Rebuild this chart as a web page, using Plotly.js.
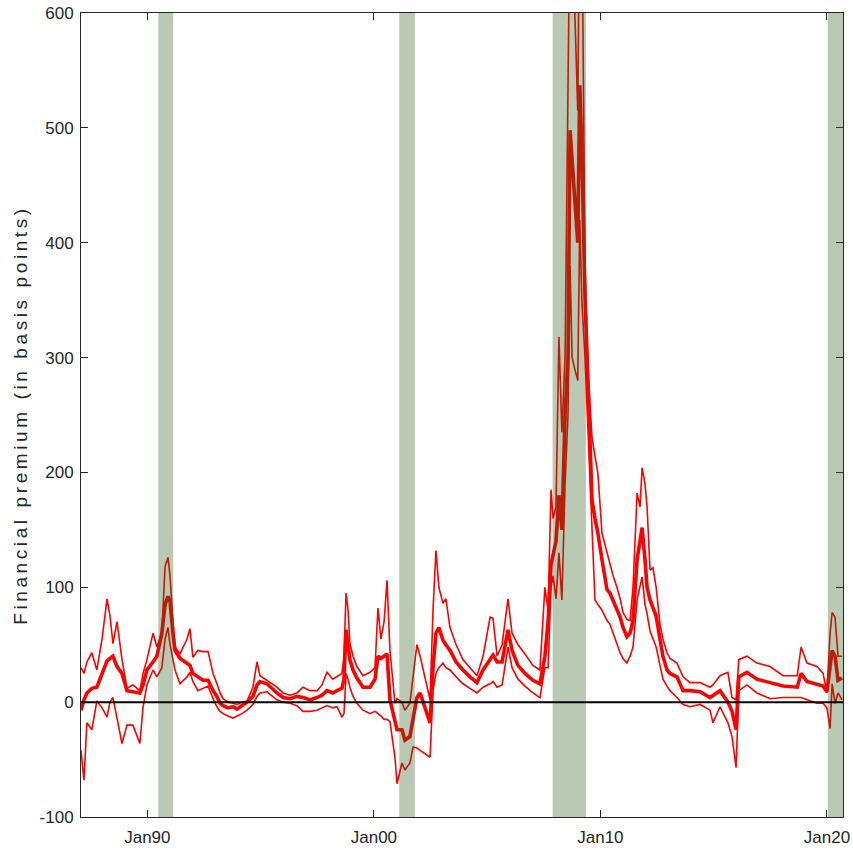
<!DOCTYPE html>
<html>
<head>
<meta charset="utf-8">
<script src="https://cdn.plot.ly/plotly-3.0.1.min.js"></script>
<style>
html,body{margin:0;padding:0;background:#fff;}
#chart{width:853px;height:857px;}
#chart .g-ytitle text{letter-spacing:3.6px;}
</style>
</head>
<body>
<div id="chart"></div>
<script>
// Decimal years (shared x for all three series)
const years = [
  1987.07, 1987.20, 1987.33, 1987.55, 1987.77, 1988.00, 1988.22, 1988.35, 1988.48, 1988.66,
  1988.88, 1989.10, 1989.36, 1989.67, 1989.81, 1989.98, 1990.25, 1990.42, 1990.64, 1990.78,
  1990.91, 1991.00, 1991.13, 1991.22, 1991.44, 1991.75, 1991.88, 1992.01, 1992.23, 1992.45,
  1992.68, 1992.90, 1993.07, 1993.21, 1993.34, 1993.56, 1993.78, 1993.96, 1994.18, 1994.40,
  1994.66, 1994.84,
  1994.97, 1995.28, 1995.72, 1995.99, 1996.30, 1996.60, 1996.87, 1997.18, 1997.49, 1997.71,
  1997.93, 1998.19, 1998.37, 1998.59, 1998.68, 1998.77, 1998.86, 1998.94, 1999.08, 1999.25,
  1999.52, 1999.83, 2000.05, 2000.18, 2000.31, 2000.45, 2000.58, 2000.71, 2000.93, 2001.02,
  2001.24, 2001.37, 2001.59, 2001.73, 2001.90, 2002.04, 2002.26, 2002.48, 2002.61, 2002.74,
  2002.87, 2003.05, 2003.18, 2003.36, 2003.63, 2003.93, 2004.24, 2004.55, 2004.82, 2005.13,
  2005.26, 2005.44, 2005.66, 2005.92, 2006.10, 2006.36, 2006.67, 2007.02, 2007.33,
  2007.55, 2007.69, 2007.82, 2007.91, 2008.04, 2008.17, 2008.30, 2008.44, 2008.57, 2008.66,
  2008.75, 2008.87, 2009.00, 2009.09, 2009.18, 2009.32, 2009.45, 2009.63, 2009.76, 2009.89,
  2010.07, 2010.29,
  2010.42, 2010.56, 2010.73, 2010.87, 2011.00, 2011.17, 2011.31, 2011.44, 2011.62, 2011.75,
  2011.84, 2011.97, 2012.06, 2012.19, 2012.32, 2012.46, 2012.63, 2012.76, 2012.94, 2013.07,
  2013.38, 2013.65, 2013.96, 2014.40, 2014.84, 2014.97, 2015.28, 2015.63, 2015.81, 2015.99,
  2016.11, 2016.47, 2016.91, 2017.49, 2018.06, 2018.69, 2018.86, 2019.12, 2019.56, 2019.83,
  2020.00, 2020.14, 2020.23, 2020.36, 2020.49, 2020.67
];

// Upper band (basis points)
const upper = [
  30, 25, 35, 43, 28, 55, 90, 75, 51, 70,
  37, 12, 15, 10, 25, 37, 60, 48, 60, 118,
  126, 110, 70, 48, 42, 55, 64, 39, 45, 44,
  44, 25, 16, 8, 3, 0, -1, -2, 0, 1,
  13, 35,
  23, 19, 13, 8, 6, 8, 13, 10, 10, 15,
  26, 20, 22, 25, 40, 95, 80, 51, 40, 31,
  23, 26, 30, 82, 55, 70, 106, 45, -1, 3,
  0, -7, -1, 22, 50, 40, 20, 2, 80, 132,
  100, 86, 90, 65, 50, 37, 30, 23, 40, 74,
  73, 40, 50, 90, 60, 50, 42, 32, 28,
  100, 80, 185, 160, 170, 318, 235, 300, 650, 700,
  680, 600, 515, 720, 700, 380, 290, 230, 213, 199,
  147, 130,
  121, 110, 100, 90, 78, 72, 71, 100, 182, 170,
  204, 190, 170, 115, 117, 100, 68, 55, 43, 38,
  34, 22, 17, 17, 13, 15, 23, 26, 4, 2,
  37, 40, 34, 31, 23, 23, 48, 34, 31, 25,
  8, 60, 78, 74, 40, 40
];

// Median estimate (basis points)
const median = [
  -7, 2, 8, 12, 13, 25, 36, 38, 40, 31,
  25, 10, 9, 8, 15, 28, 35, 40, 60, 85,
  92, 88, 60, 45, 38, 34, 32, 25, 22, 19,
  19, 10, 5, -1, -3, -5, -4, -6, -3, 0,
  5, 15,
  18, 16, 8, 4, 3, 5, 4, 2, 4, 6,
  10, 8, 10, 12, 20, 63, 50, 37, 28, 21,
  13, 13, 20, 40, 38, 40, 42, 2, -16, -24,
  -24, -33, -30, -13, 4, 8, -5, -18, 30, 60,
  65, 54, 50, 45, 35, 28, 22, 17, 28, 37,
  41, 35, 35, 63, 45, 32, 25, 19, 16,
  40, 70, 120, 130, 140, 180, 150, 250, 300, 498,
  470, 445, 400, 537, 480, 354, 270, 176, 160, 147,
  124, 98,
  95, 89, 80, 74, 65, 57, 60, 71, 124, 140,
  152, 124, 100, 89, 83, 75, 55, 40, 28, 25,
  22, 10, 10, 9, 4, 6, 10, 0, -8, -24,
  22, 26, 20, 17, 14, 13, 25, 18, 16, 14,
  9, 30, 45, 40, 19, 21
];

// Lower band (basis points)
const lower = [
  -42, -68, -18, -24, 1, -5, -13, 0, 4, -13,
  -36, -20, -20, -36, -4, 15, 28, 22, 30, 55,
  65, 50, 35, 28, 16, 22, 26, 18, 10, 12,
  14, 3, -4, -8, -10, -12, -14, -12, -10, -7,
  -2, 5,
  8, 9, 2, 0, -1, -3, -8, -8, -7, -5,
  -3, -5, -4, -13, -10, 25, 20, 13, 5, -1,
  -7, -10, -8, -10, -12, -15, -15, -17, -48, -71,
  -53, -59, -53, -39, -40, -42, -45, -48, 10, 25,
  30, 34, 30, 28, 22, 16, 12, 8, 13, 16,
  18, 13, 15, 48, 30, 20, 14, 8, 4,
  30, 30, 100, 110, 90, 130, 89, 190, 250, 380,
  300, 290, 280, 420, 350, 300, 234, 150, 89, 85,
  80, 71,
  68, 60, 50, 43, 38, 34, 40, 48, 89, 100,
  109, 85, 77, 62, 56, 48, 32, 20, 14, 10,
  4, -2, -4, -2, -7, -18, -4, -18, -30, -57,
  10, 15, 8, 3, 4, 4, 4, 2, -1, -1,
  -5, -23, 16, -1, 8, 2
];

// Recession periods (decimal years)
const recStart = [1990.48, 2001.12, 2007.89, 2020.04];
const recEnd   = [1991.14, 2001.81, 2009.36, 2020.71];

// Axis ticks
const xTickVals = [1990, 2000, 2010, 2020];
const xTickText = ['Jan90', 'Jan00', 'Jan10', 'Jan20'];
const yTickVals = [-100, 0, 100, 200, 300, 400, 500, 600];
const yTickText = ['-100', '0', '100', '200', '300', '400', '500', '600'];

const axisColor = '#262626';
const font = {family: 'Liberation Sans, Arial, Helvetica, sans-serif', size: 17, color: axisColor};

const traces = [
  {x: years, y: upper, type: 'scatter', mode: 'lines', line: {color: '#ff0000', width: 1.6}, name: 'upper'},
  {x: years, y: lower, type: 'scatter', mode: 'lines', line: {color: '#ff0000', width: 1.6}, name: 'lower'},
  {x: years, y: median, type: 'scatter', mode: 'lines', line: {color: '#ff0000', width: 3.6}, name: 'median'}
];

const shapes = recStart.map((s, i) => ({
  type: 'rect', xref: 'x', yref: 'paper', x0: s, x1: recEnd[i], y0: 0, y1: 1,
  fillcolor: 'rgb(42,90,27)', opacity: 0.33, line: {width: 0}, layer: 'above'
}));
shapes.push({type: 'line', xref: 'paper', yref: 'y', x0: 0, x1: 1, y0: 0, y1: 0,
  line: {color: '#000000', width: 2}, layer: 'above'});

const layout = {
  width: 853, height: 857,
  margin: {l: 81, r: 10, t: 13, b: 40},
  paper_bgcolor: '#ffffff', plot_bgcolor: '#ffffff',
  showlegend: false,
  font: font,
  xaxis: {
    range: [1987.07, 2020.71], tickmode: 'array', tickvals: xTickVals, ticktext: xTickText,
    ticks: 'inside', ticklen: 7, tickwidth: 1, tickcolor: axisColor,
    showline: true, linecolor: axisColor, linewidth: 1, mirror: 'ticks',
    showgrid: false, zeroline: false, tickfont: font, ticklabelstandoff: 5
  },
  yaxis: {
    range: [-100, 600], tickmode: 'array', tickvals: yTickVals, ticktext: yTickText,
    ticks: 'inside', ticklen: 7, tickwidth: 1, tickcolor: axisColor,
    showline: true, linecolor: axisColor, linewidth: 1, mirror: 'ticks',
    showgrid: false, zeroline: false, tickfont: font, ticklabelstandoff: 3,
    title: {text: 'Financial premium (in basis points)', font: {family: font.family, size: 19, color: axisColor}, standoff: 6}
  },
  shapes: shapes
};

Plotly.newPlot('chart', traces, layout, {staticPlot: true, displayModeBar: false});
</script>
</body>
</html>
